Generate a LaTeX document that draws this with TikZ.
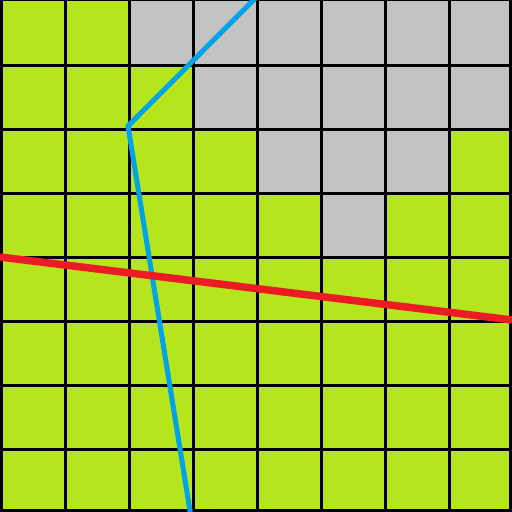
\documentclass[tikz,border=0pt]{standalone}
\definecolor{lime}{HTML}{B5E61D}
\definecolor{lgray}{HTML}{C3C3C3}
\definecolor{pred}{HTML}{ED1C24}
\definecolor{pblue}{HTML}{00A2E8}
\tikzset{gridline/.style={black,line width=3pt},
  blueline/.style={pblue,line width=5pt,line join=miter},
  redline/.style={pred,line width=7.5pt}}
\begin{document}
\begin{tikzpicture}[x=1pt,y=-1pt]
\useasboundingbox (0,0) rectangle (512,512);
\fill[lime] (0,0) rectangle (512,512);
% gray cells (col,row)
\foreach \c/\r in {2/0,3/0,4/0,5/0,6/0,7/0,3/1,4/1,5/1,6/1,7/1,4/2,5/2,6/2,5/3}
  \fill[lgray] (\c*64,\r*64) rectangle ({(\c+1)*64},{(\r+1)*64});
\foreach \k in {1,...,7} {
  \draw[gridline] (\k*64+1.5,0) -- (\k*64+1.5,512);
  \draw[gridline] (0,\k*64+1.5) -- (512,\k*64+1.5);
}
\draw[gridline] (1.5,0) -- (1.5,512);
\draw[gridline] (510.5,0) -- (510.5,512);
\draw[gridline] (0,510.5) -- (512,510.5);
\draw[black,line width=1pt] (0,0.5) -- (512,0.5);
\coordinate (b1) at (255.5,-2);
\coordinate (b2) at (128,126);
\coordinate (b3) at (190.5,514);
\draw[blueline] (b1) -- (b2) -- (b3);
\coordinate (r1) at (0,257);
\coordinate (r2) at (512,320);
\draw[redline] (r1) -- (r2);
\end{tikzpicture}
\end{document}
